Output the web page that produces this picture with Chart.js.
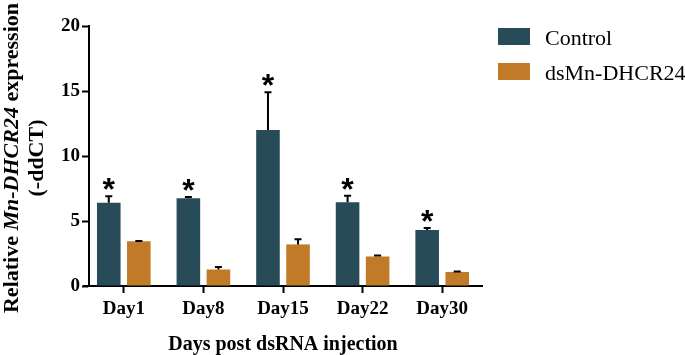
<!DOCTYPE html>
<html lang="en">
<head>
    <meta charset="UTF-8">
    <title>Mn-DHCR24 expression</title>
    <script src="https://cdn.jsdelivr.net/npm/chart.js"></script>
    <style>
        body {
            margin: 0;
            padding: 0;
            background: white;
        }
        .container {
            width: 685px;
            height: 355px;
            position: relative;
        }
    </style>
</head>
<body>
    <div class="container">
        <canvas id="exprChart"></canvas>
    </div>

    <script>
        // values
        const days = ["Day1", "Day8", "Day15", "Day22", "Day30"];
        const controlMean = [6.4, 6.75, 12.0, 6.45, 4.3];
        const controlErr = [0.5, 0.1, 2.9, 0.5, 0.17];
        const dsMean = [3.44, 1.27, 3.2, 2.27, 1.08];
        const dsErr = [0.03, 0.2, 0.4, 0.08, 0.03];
        const significant = [true, true, true, true, true];
        const yTicks = [0, 5, 10, 15, 20];

        const seriesNames = ["Control", "dsMn-DHCR24"];
        const colors = ["#284b59", "#c17a27"];

        const serif = "'Liberation Serif', 'Times New Roman', serif";

        // error bars + asterisks
        const errorBarPlugin = {
            id: 'errorBars',
            afterDatasetsDraw(chart) {
                const ctx = chart.ctx;
                const y = chart.scales.y;
                const errs = [controlErr, dsErr];
                ctx.save();
                ctx.strokeStyle = "#000";
                ctx.lineWidth = 2;
                chart.data.datasets.forEach((ds, i) => {
                    const meta = chart.getDatasetMeta(i);
                    meta.data.forEach((bar, j) => {
                        const top = y.getPixelForValue(ds.data[j] + errs[i][j]);
                        ctx.beginPath();
                        ctx.moveTo(bar.x, bar.y);
                        ctx.lineTo(bar.x, top);
                        ctx.moveTo(bar.x - 3.5, top);
                        ctx.lineTo(bar.x + 3.5, top);
                        ctx.stroke();
                        if (i === 0 && significant[j]) {
                            ctx.font = "bold 32px 'Liberation Sans', Arial, sans-serif";
                            ctx.fillStyle = "#000";
                            ctx.textAlign = "center";
                            ctx.textBaseline = "alphabetic";
                            const m = ctx.measureText("*");
                            const mid = (m.actualBoundingBoxAscent - m.actualBoundingBoxDescent) / 2;
                            ctx.fillText("*", bar.x, top - 12 + mid);
                        }
                    });
                });
                ctx.restore();
            }
        };

        // axis titles and legend
        const labelsPlugin = {
            id: 'labels',
            afterLayout(chart) {
                // category band starts a bit left of the y axis line in the figure
                const x = chart.scales.x;
                x.left = chart.chartArea.left - 5;
                x.configure();
            },
            afterDraw(chart) {
                const ctx = chart.ctx;
                ctx.save();
                ctx.fillStyle = "#000";

                // y title, two lines, rotated
                ctx.translate(0, 158);
                ctx.rotate(-Math.PI / 2);
                const parts = [
                    ["bold 22px " + serif, "Relative "],
                    ["italic bold 22px " + serif, "Mn-DHCR24"],
                    ["bold 22px " + serif, " expression"]
                ];
                let total = 0;
                parts.forEach(p => { ctx.font = p[0]; total += ctx.measureText(p[1]).width; });
                let cx = -total / 2;
                ctx.textAlign = "left";
                ctx.textBaseline = "alphabetic";
                parts.forEach(p => {
                    ctx.font = p[0];
                    ctx.fillText(p[1], cx, 18);
                    cx += ctx.measureText(p[1]).width;
                });
                ctx.font = "bold 22px " + serif;
                ctx.textAlign = "center";
                ctx.fillText("(-ddCT)", 0, 43);
                ctx.setTransform(1, 0, 0, 1, 0, 0);

                // x title
                ctx.font = "bold 20px " + serif;
                ctx.textAlign = "center";
                ctx.fillText("Days post dsRNA injection", 283, 350);

                // legend
                ctx.textAlign = "left";
                ctx.font = "22px " + serif;
                seriesNames.forEach((name, i) => {
                    const top = 28 + i * 35;
                    ctx.fillStyle = colors[i];
                    ctx.fillRect(498, top, 32, 17);
                    ctx.fillStyle = "#000";
                    ctx.fillText(name, 545, top + 16.5);
                });
                ctx.restore();
            }
        };

        const exprChart = new Chart(document.getElementById("exprChart"), {
            type: 'bar',
            data: {
                labels: days,
                datasets: [
                    { label: seriesNames[0], data: controlMean, backgroundColor: colors[0] },
                    { label: seriesNames[1], data: dsMean, backgroundColor: colors[1] }
                ]
            },
            options: {
                responsive: true,
                maintainAspectRatio: false,
                animation: false,
                categoryPercentage: 0.755,
                barPercentage: 0.785,
                layout: { padding: { top: 26, right: 203, left: 0, bottom: 0 } },
                plugins: {
                    legend: { display: false },
                    tooltip: { enabled: false }
                },
                scales: {
                    x: {
                        offset: true,
                        grid: {
                            offset: false,
                            drawOnChartArea: false,
                            tickLength: 7,
                            tickWidth: 2,
                            tickColor: "#000"
                        },
                        border: { color: "#000", width: 2 },
                        ticks: {
                            color: "#000",
                            padding: 5,
                            maxRotation: 0,
                            font: { family: serif, size: 19, weight: 'bold' }
                        },
                        afterFit(scale) { scale.height = 69; }
                    },
                    y: {
                        min: 0,
                        max: 20,
                        afterBuildTicks(scale) { scale.ticks = yTicks.map(v => ({ value: v })); },
                        grid: {
                            drawOnChartArea: false,
                            tickLength: 7,
                            tickWidth: 2,
                            tickColor: "#000"
                        },
                        border: { color: "#000", width: 2 },
                        ticks: {
                            color: "#000",
                            padding: 2,
                            font: { family: serif, size: 19, weight: 'bold' }
                        },
                        afterFit(scale) { scale.width = 89; }
                    }
                }
            },
            plugins: [errorBarPlugin, labelsPlugin]
        });
    </script>
</body>
</html>
